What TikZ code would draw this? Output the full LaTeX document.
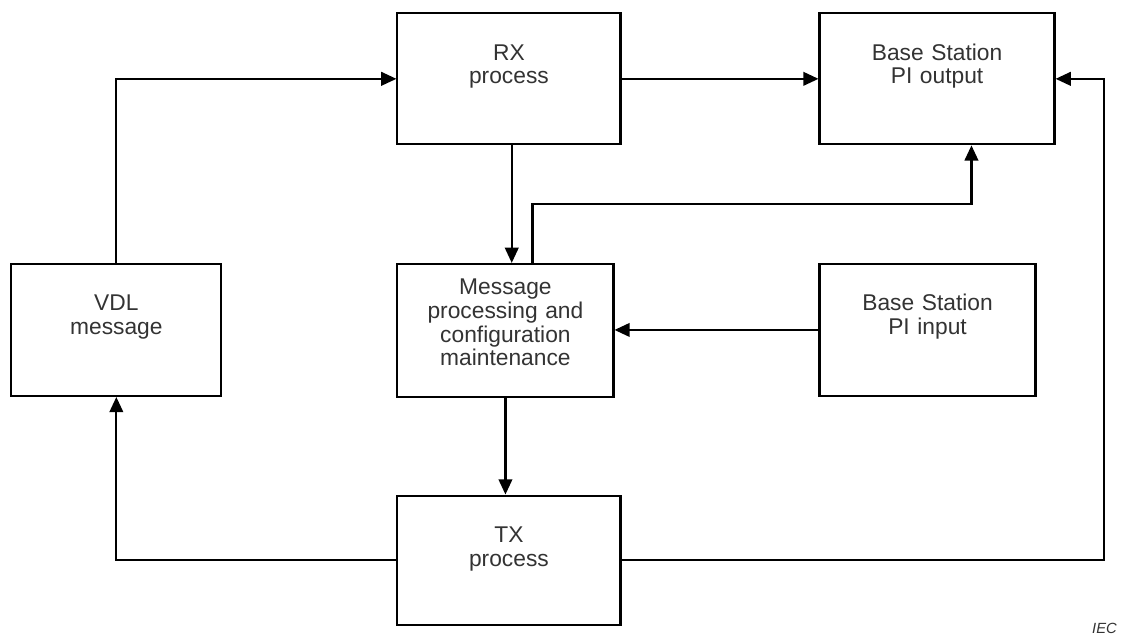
\documentclass[tikz,border=0pt]{standalone}
\usepackage{fontspec}
\setmainfont{Liberation Sans}
\usepackage{tikz}
\usetikzlibrary{arrows.meta,calc}
\definecolor{labelgray}{gray}{0.2}
\tikzstyle{block}=[draw=black,line width=1.5pt,inner sep=0pt,text width=5cm,
align=center,text=labelgray,font=\fontsize{16.2}{16.8}\selectfont,text height=1.175cm]
\tikzstyle{link}=[line width=1.5pt]

\begin{document}
\begin{tikzpicture}[>={Triangle[length=0.38cm,width=0.34cm]},ampersand replacement=\&]
    \useasboundingbox (0,0) rectangle (28.05,-15.875);
    \matrix (layout) [anchor=north west,inner sep=0pt,row sep=2.4125cm,column sep=4.35cm] at (0.25,-0.3) {
      % first line: receive side and PI output
      \&
      \node (rx) [block,minimum width=5.575cm,text depth=2.1cm] {RX\\process}; \&[0.575cm]
      \node (piout) [block,minimum width=5.875cm,text depth=2.1cm] {Base Station\\PI output};
      \\[0.525cm]
      % second line: VDL, processing core, PI input
      \node (vdl) [block,minimum width=5.25cm,text depth=2.125cm] {VDL\\message}; \&
      \node (msg) [block,minimum width=5.4cm,text height=0.775cm,text depth=2.55cm] {Message\\processing and\\configuration\\maintenance}; \&[0.575cm]
      \node (piin) [block,minimum width=5.4cm,text depth=2.125cm] {Base Station\\PI input};
      \\
      % third line: transmit side
      \&
      \node (tx) [block,minimum width=5.575cm,text depth=2.05cm] {TX\\process}; \&[0.575cm]
      \\
    };
    \coordinate (mid) at ($(rx.south)!0.5!(msg.north)$);
    \coordinate (rxdown) at ([xshift=0.07cm]rx.south);
    \coordinate (msgup) at ([xshift=0.675cm]msg.north);
    \coordinate (outin) at ([xshift=0.86cm]piout.south);
    \coordinate (far) at ([xshift=1.2cm]piout.east);
    % straight connections
    \path[->,link]
    (rx.east)    edge (piout.west)
    (rxdown)     edge (rxdown |- msg.north)
    (piin.west)  edge (piin.west -| msg.east)
    (msg.south)  edge (msg.south |- tx.north);
    % bent connections
    \draw[->,link] (vdl.north) |- (rx.west);
    \draw[->,link] (msgup) |- (outin |- mid) -- (outin);
    \draw[->,link] (tx.west) -| (vdl.south);
    \draw[->,link] (tx.east) -| (far) -- (piout.east);
    \node (iec) [text=labelgray,font=\fontsize{10.5}{12}\selectfont\itshape,inner sep=0pt] at (27.6125,-15.7125) {IEC};
\end{tikzpicture}
\end{document}
